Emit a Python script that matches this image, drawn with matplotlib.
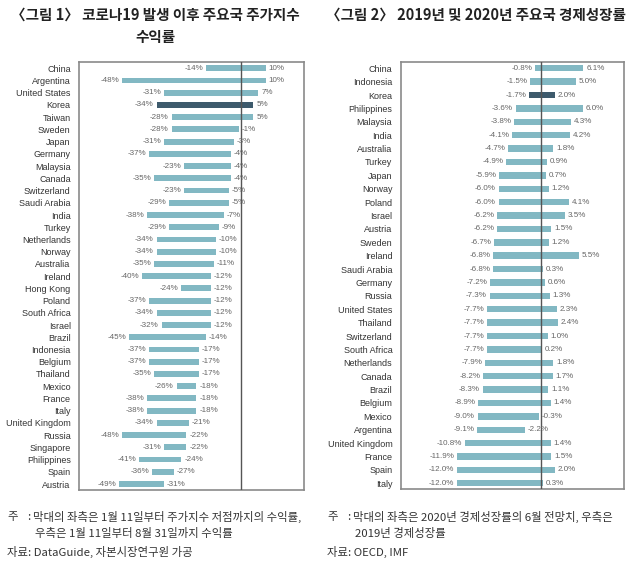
import matplotlib
matplotlib.use("Agg")
import matplotlib.pyplot as plt

# Figure 1: stock index returns (left = to trough, right = to Aug 31)
countries1 = ["China", "Argentina", "United States", "Korea", "Taiwan", "Sweden", "Japan",
              "Germany", "Malaysia", "Canada", "Switzerland", "Saudi Arabia", "India", "Turkey",
              "Netherlands", "Norway", "Australia", "Ireland", "Hong Kong", "Poland",
              "South Africa", "Israel", "Brazil", "Indonesia", "Belgium", "Thailand", "Mexico",
              "France", "Italy", "United Kingdom", "Russia", "Singapore", "Philippines", "Spain",
              "Austria"]
low1 = [-14, -48, -31, -34, -28, -28, -31, -37, -23, -35, -23, -29, -38, -29, -34, -34, -35,
        -40, -24, -37, -34, -32, -45, -37, -37, -35, -26, -38, -38, -34, -48, -31, -41, -36, -49]
high1 = [10, 10, 7, 5, 5, -1, -3, -4, -4, -4, -5, -5, -7, -9, -10, -10, -11, -12, -12, -12,
         -12, -12, -14, -17, -17, -17, -18, -18, -18, -21, -22, -22, -24, -27, -31]

# Figure 2: GDP growth (left = 2020 June forecast, right = 2019)
countries2 = ["China", "Indonesia", "Korea", "Philippines", "Malaysia", "India", "Australia",
              "Turkey", "Japan", "Norway", "Poland", "Israel", "Austria", "Sweden", "Ireland",
              "Saudi Arabia", "Germany", "Russia", "United States", "Thailand", "Switzerland",
              "South Africa", "Netherlands", "Canada", "Brazil", "Belgium", "Mexico", "Argentina",
              "United Kingdom", "France", "Spain", "Italy"]
low2 = [-0.8, -1.5, -1.7, -3.6, -3.8, -4.1, -4.7, -4.9, -5.9, -6.0, -6.0, -6.2, -6.2, -6.7,
        -6.8, -6.8, -7.2, -7.3, -7.7, -7.7, -7.7, -7.7, -7.9, -8.2, -8.3, -8.9, -9.0, -9.1,
        -10.8, -11.9, -12.0, -12.0]
high2 = [6.1, 5.0, 2.0, 6.0, 4.3, 4.2, 1.8, 0.9, 0.7, 1.2, 4.1, 3.5, 1.5, 1.2, 5.5, 0.3, 0.6,
         1.3, 2.3, 2.4, 1.0, 0.2, 1.8, 1.7, 1.1, 1.4, -0.3, -2.2, 1.4, 1.5, 2.0, 0.3]

BAR = "#82b8c3"
HIGHLIGHT = "#3d5a6c"
LATIN = ["Liberation Sans", "DejaVu Sans"]
KR = ["Noto Sans CJK KR", "DejaVu Sans"]

W, H = 640, 571
fig = plt.figure(figsize=(6.4, 5.71), dpi=100)


def px_axes(left, top, right, bottom):
    return fig.add_axes([left / W, 1 - bottom / H, (right - left) / W, (bottom - top) / H])


def draw_panel(ax, countries, low, high, fmt, xlim, ylim):
    n = len(countries)
    ys = list(range(n))
    colors = [HIGHLIGHT if c == "Korea" else BAR for c in countries]
    widths = [h - l for l, h in zip(low, high)]
    ax.barh(ys, widths, left=low, height=0.48, color=colors, zorder=2)
    ax.axvline(0, color="#555555", lw=1.0, zorder=3)
    for y, l, h in zip(ys, low, high):
        ax.annotate(fmt.format(l), (l, y), xytext=(-2, 0), textcoords="offset points",
                    ha="right", va="center", fontsize=5.8, color="#666666", family=LATIN)
        ax.annotate(fmt.format(h), (h, y), xytext=(2, 0), textcoords="offset points",
                    ha="left", va="center", fontsize=5.8, color="#666666", family=LATIN)
    ax.set_xlim(*xlim)
    ax.set_ylim(*ylim)
    ax.set_xticks([])
    ax.set_yticks(ys)
    ax.set_yticklabels(countries, family=LATIN, fontsize=6.5, color="#333333")
    ax.tick_params(axis="y", length=0, pad=6)
    for s in ax.spines.values():
        s.set_color("#8a8a8a")
        s.set_linewidth(1.2)


ax1 = px_axes(79, 62, 304.3, 490)
draw_panel(ax1, countries1, low1, high1, "{:.0f}%", (-65.3, 25.5), (34.49, -0.515))

ax2 = px_axes(400.7, 61.7, 624.3, 489.3)
draw_panel(ax2, countries2, low2, high2, "{:.1f}%", (-20.0, 11.94), (31.45, -0.49))

# titles
title_kw = dict(ha="center", va="center", fontsize=10.5, fontweight="bold", family=KR,
                color="#222222")
fig.text(155 / W, 1 - 15 / H, "〈그림 1〉 코로나19 발생 이후 주요국 주가지수", **title_kw)
fig.text(155 / W, 1 - 37 / H, "수익률", **title_kw)
fig.text(476 / W, 1 - 15 / H, "〈그림 2〉 2019년 및 2020년 주요국 경제성장률", **title_kw)

# notes
note_kw = dict(fontsize=8.2, family=KR, color="#333333", va="center", ha="left")
fig.text(7 / W, 1 - 517 / H, "주", **note_kw)
fig.text(27 / W, 1 - 517 / H, ":", **note_kw)
fig.text(33 / W, 1 - 517 / H, "막대의 좌측은 1월 11일부터 주가지수 저점까지의 수익률,", **note_kw)
fig.text(35 / W, 1 - 534 / H, "우측은 1월 11일부터 8월 31일까지 수익률", **note_kw)
fig.text(7 / W, 1 - 552 / H, "자료: DataGuide, 자본시장연구원 가공", **note_kw)

fig.text(327 / W, 1 - 517 / H, "주", **note_kw)
fig.text(347 / W, 1 - 517 / H, ":", **note_kw)
fig.text(353 / W, 1 - 517 / H, "막대의 좌측은 2020년 경제성장률의 6월 전망치, 우측은", **note_kw)
fig.text(355 / W, 1 - 534 / H, "2019년 경제성장률", **note_kw)
fig.text(327 / W, 1 - 552 / H, "자료: OECD, IMF", **note_kw)

fig.savefig("out.png", dpi=100)
